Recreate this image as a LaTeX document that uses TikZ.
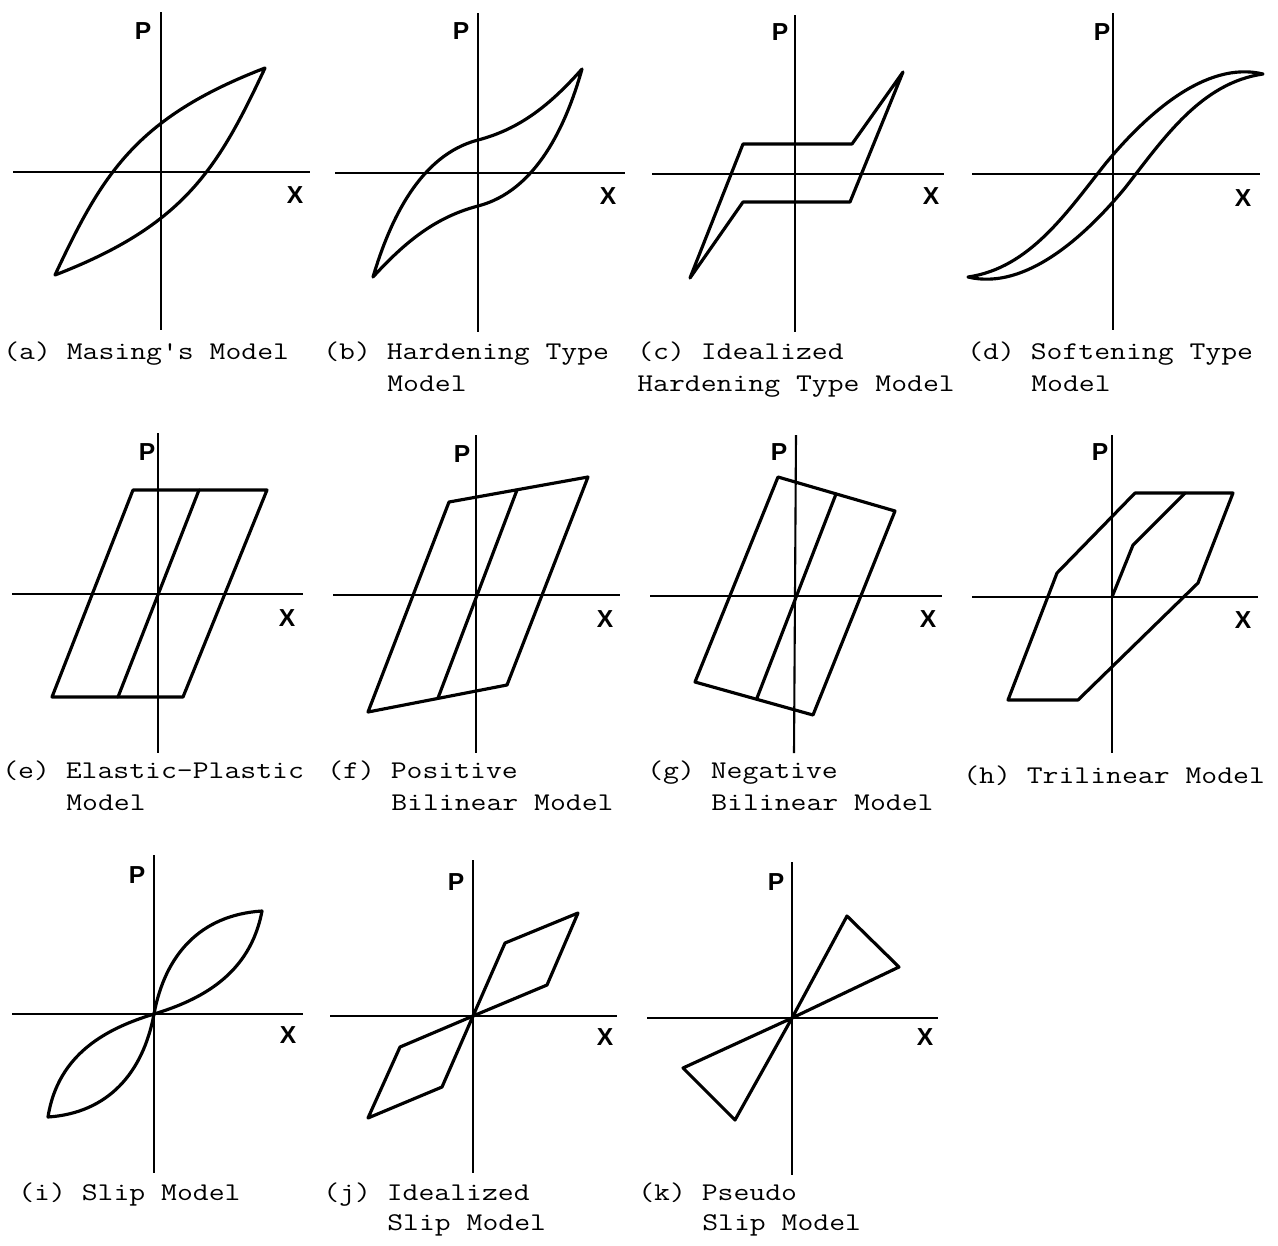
\documentclass[tikz,border=0pt]{standalone}
\usepackage{fontspec}
\usepackage{graphicx}
\setsansfont{Liberation Sans}
\newcommand{\hystcap}[1]{\scalebox{1.21}[1]{\fontsize{14.5}{16}\selectfont\ttfamily #1}}
\tikzset{
  axisline/.style={line width=1.2pt},
  loopline/.style={line width=1.8pt, line join=round, line cap=round},
  axlbl/.style={font=\sffamily\bfseries\fontsize{14}{16}\selectfont, inner sep=0pt},
  capline/.style={anchor=base west, inner sep=0pt},
}
\begin{document}
\begin{tikzpicture}[x=0.02cm,y=-0.02cm]
\useasboundingbox (0,0) rectangle (1278,1245);
\fill[white] (0,0) rectangle (1278,1245);

% ---------- (a) Masing's model
\draw[axisline] (161,12) -- (161,330);
\draw[axisline] (13,172) -- (310,172);
\node[axlbl] (Pa) at (143,31) {P};
\node[axlbl] (Xa) at (295,195) {X};
\draw[loopline] (55,275) .. controls (102,175) and (135,118) .. (265,68)
  .. controls (218,168) and (185,225) .. (55,275) -- cycle;
\node[capline] (ca1) at (3,359) {\hystcap{(a) Masing's Model}};

% ---------- (b) Hardening type
\draw[axisline] (478,13) -- (478,332);
\draw[axisline] (335,173) -- (625,173);
\node[axlbl] (Pb) at (461,31) {P};
\node[axlbl] (Xb) at (608,196) {X};
\draw[loopline] (373,277) .. controls (390,220) and (420,155) .. (478,140)
  .. controls (520,129) and (550,105) .. (582,69)
  .. controls (566,126) and (536,191) .. (478,206)
  .. controls (436,217) and (406,241) .. (373,277) -- cycle;
\node[capline] (cb1) at (323,359) {\hystcap{(b) Hardening Type}};
\node[capline] (cb2) at (387,391) {\hystcap{Model}};

% ---------- (c) Idealized hardening type
\draw[axisline] (795,15) -- (795,332);
\draw[axisline] (652,174) -- (944,174);
\node[axlbl] (Pc) at (780,32) {P};
\node[axlbl] (Xc) at (931,196) {X};
\draw[loopline] (690,278) -- (743,144) -- (852,144) -- (903,72) -- (850,202) -- (743,202) -- cycle;
\node[capline] (cc1) at (637,359) {\hystcap{(c) Idealized}};
\node[capline] (cc2) at (637,391) {\hystcap{Hardening Type Model}};

% ---------- (d) Softening type
\draw[axisline] (1113,13) -- (1113,330);
\draw[axisline] (972,174) -- (1260,174);
\node[axlbl] (Pd) at (1102,32) {P};
\node[axlbl] (Xd) at (1243,198) {X};
\draw[loopline] (968,277) .. controls (1030,268) and (1067,212) .. (1106,163)
  .. controls (1145,116) and (1205,60) .. (1263,74)
  .. controls (1201,83) and (1164,138) .. (1125,188)
  .. controls (1086,235) and (1026,291) .. (968,277) -- cycle;
\node[capline] (cd1) at (967,359) {\hystcap{(d) Softening Type}};
\node[capline] (cd2) at (1031,391) {\hystcap{Model}};

% ---------- (e) Elastic-plastic
\draw[axisline] (158,433) -- (158,753);
\draw[axisline] (12,594) -- (303,594);
\node[axlbl] (Pe) at (147,452) {P};
\node[axlbl] (Xe) at (287,618) {X};
\draw[loopline] (52,697) -- (133,490) -- (267,490) -- (183,697) -- cycle;
\draw[loopline] (118,697) -- (199,490);
\node[capline] (ce1) at (2,778) {\hystcap{(e) Elastic-Plastic}};
\node[capline] (ce2) at (66,810) {\hystcap{Model}};

% ---------- (f) Positive bilinear
\draw[axisline] (476,435) -- (476,753);
\draw[axisline] (333,595) -- (620,595);
\node[axlbl] (Pf) at (462,454) {P};
\node[axlbl] (Xf) at (605,619) {X};
\draw[loopline] (368,712) -- (449,502) -- (588,477) -- (507,685) -- cycle;
\draw[loopline] (438,698) -- (517,490);
\node[capline] (cf1) at (327,778) {\hystcap{(f) Positive}};
\node[capline] (cf2) at (391,810) {\hystcap{Bilinear Model}};

% ---------- (g) Negative bilinear
\draw[axisline] (796,435) -- (794,753);
\draw[axisline] (650,596) -- (942,596);
\node[axlbl] (Pg) at (779,452) {P};
\node[axlbl] (Xg) at (928,619) {X};
\draw[loopline] (695,682) -- (778,477) -- (895,511) -- (813,715) -- cycle;
\draw[loopline] (757,698) -- (836,494);
\node[capline] (cg1) at (647,778) {\hystcap{(g) Negative}};
\node[capline] (cg2) at (711,810) {\hystcap{Bilinear Model}};

% ---------- (h) Trilinear
\draw[axisline] (1112,435) -- (1112,753);
\draw[axisline] (972,597) -- (1258,597);
\node[axlbl] (Ph) at (1100,452) {P};
\node[axlbl] (Xh) at (1243,620) {X};
\draw[loopline] (1008,700) -- (1057,573) -- (1135,493) -- (1233,493) -- (1198,583) -- (1078,700) -- cycle;
\draw[loopline] (1112,597) -- (1133,545) -- (1185,493);
\node[capline] (ch1) at (963,783) {\hystcap{(h) Trilinear Model}};

% ---------- (i) Slip
\draw[axisline] (154,855) -- (154,1173);
\draw[axisline] (12,1014) -- (303,1014);
\node[axlbl] (Pi) at (137,875) {P};
\node[axlbl] (Xi) at (288,1035) {X};
\draw[loopline] (154,1014) .. controls (165,955) and (200,915) .. (262,911)
  .. controls (250,975) and (200,1000) .. (154,1014)
  .. controls (108,1028) and (58,1053) .. (48,1117)
  .. controls (108,1113) and (143,1073) .. (154,1014);
\node[capline] (ci1) at (18,1200) {\hystcap{(i) Slip Model}};

% ---------- (j) Idealized slip
\draw[axisline] (473,860) -- (473,1173);
\draw[axisline] (330,1016) -- (617,1016);
\node[axlbl] (Pj) at (456,882) {P};
\node[axlbl] (Xj) at (605,1037) {X};
\draw[loopline] (473,1016) -- (505,943) -- (578,913) -- (547,985) -- cycle;
\draw[loopline] (473,1016) -- (400,1047) -- (368,1118) -- (442,1087) -- cycle;
\node[capline] (cj1) at (323,1200) {\hystcap{(j) Idealized}};
\node[capline] (cj2) at (387,1230) {\hystcap{Slip Model}};

% ---------- (k) Pseudo slip
\draw[axisline] (792,862) -- (792,1175);
\draw[axisline] (647,1018) -- (938,1018);
\node[axlbl] (Pk) at (776,882) {P};
\node[axlbl] (Xk) at (925,1037) {X};
\draw[loopline] (792,1018) -- (847,916) -- (899,967) -- cycle;
\draw[loopline] (792,1018) -- (683,1068) -- (735,1120) -- cycle;
\node[capline] (ck1) at (638,1200) {\hystcap{(k) Pseudo}};
\node[capline] (ck2) at (702,1230) {\hystcap{Slip Model}};
\end{tikzpicture}
\end{document}
